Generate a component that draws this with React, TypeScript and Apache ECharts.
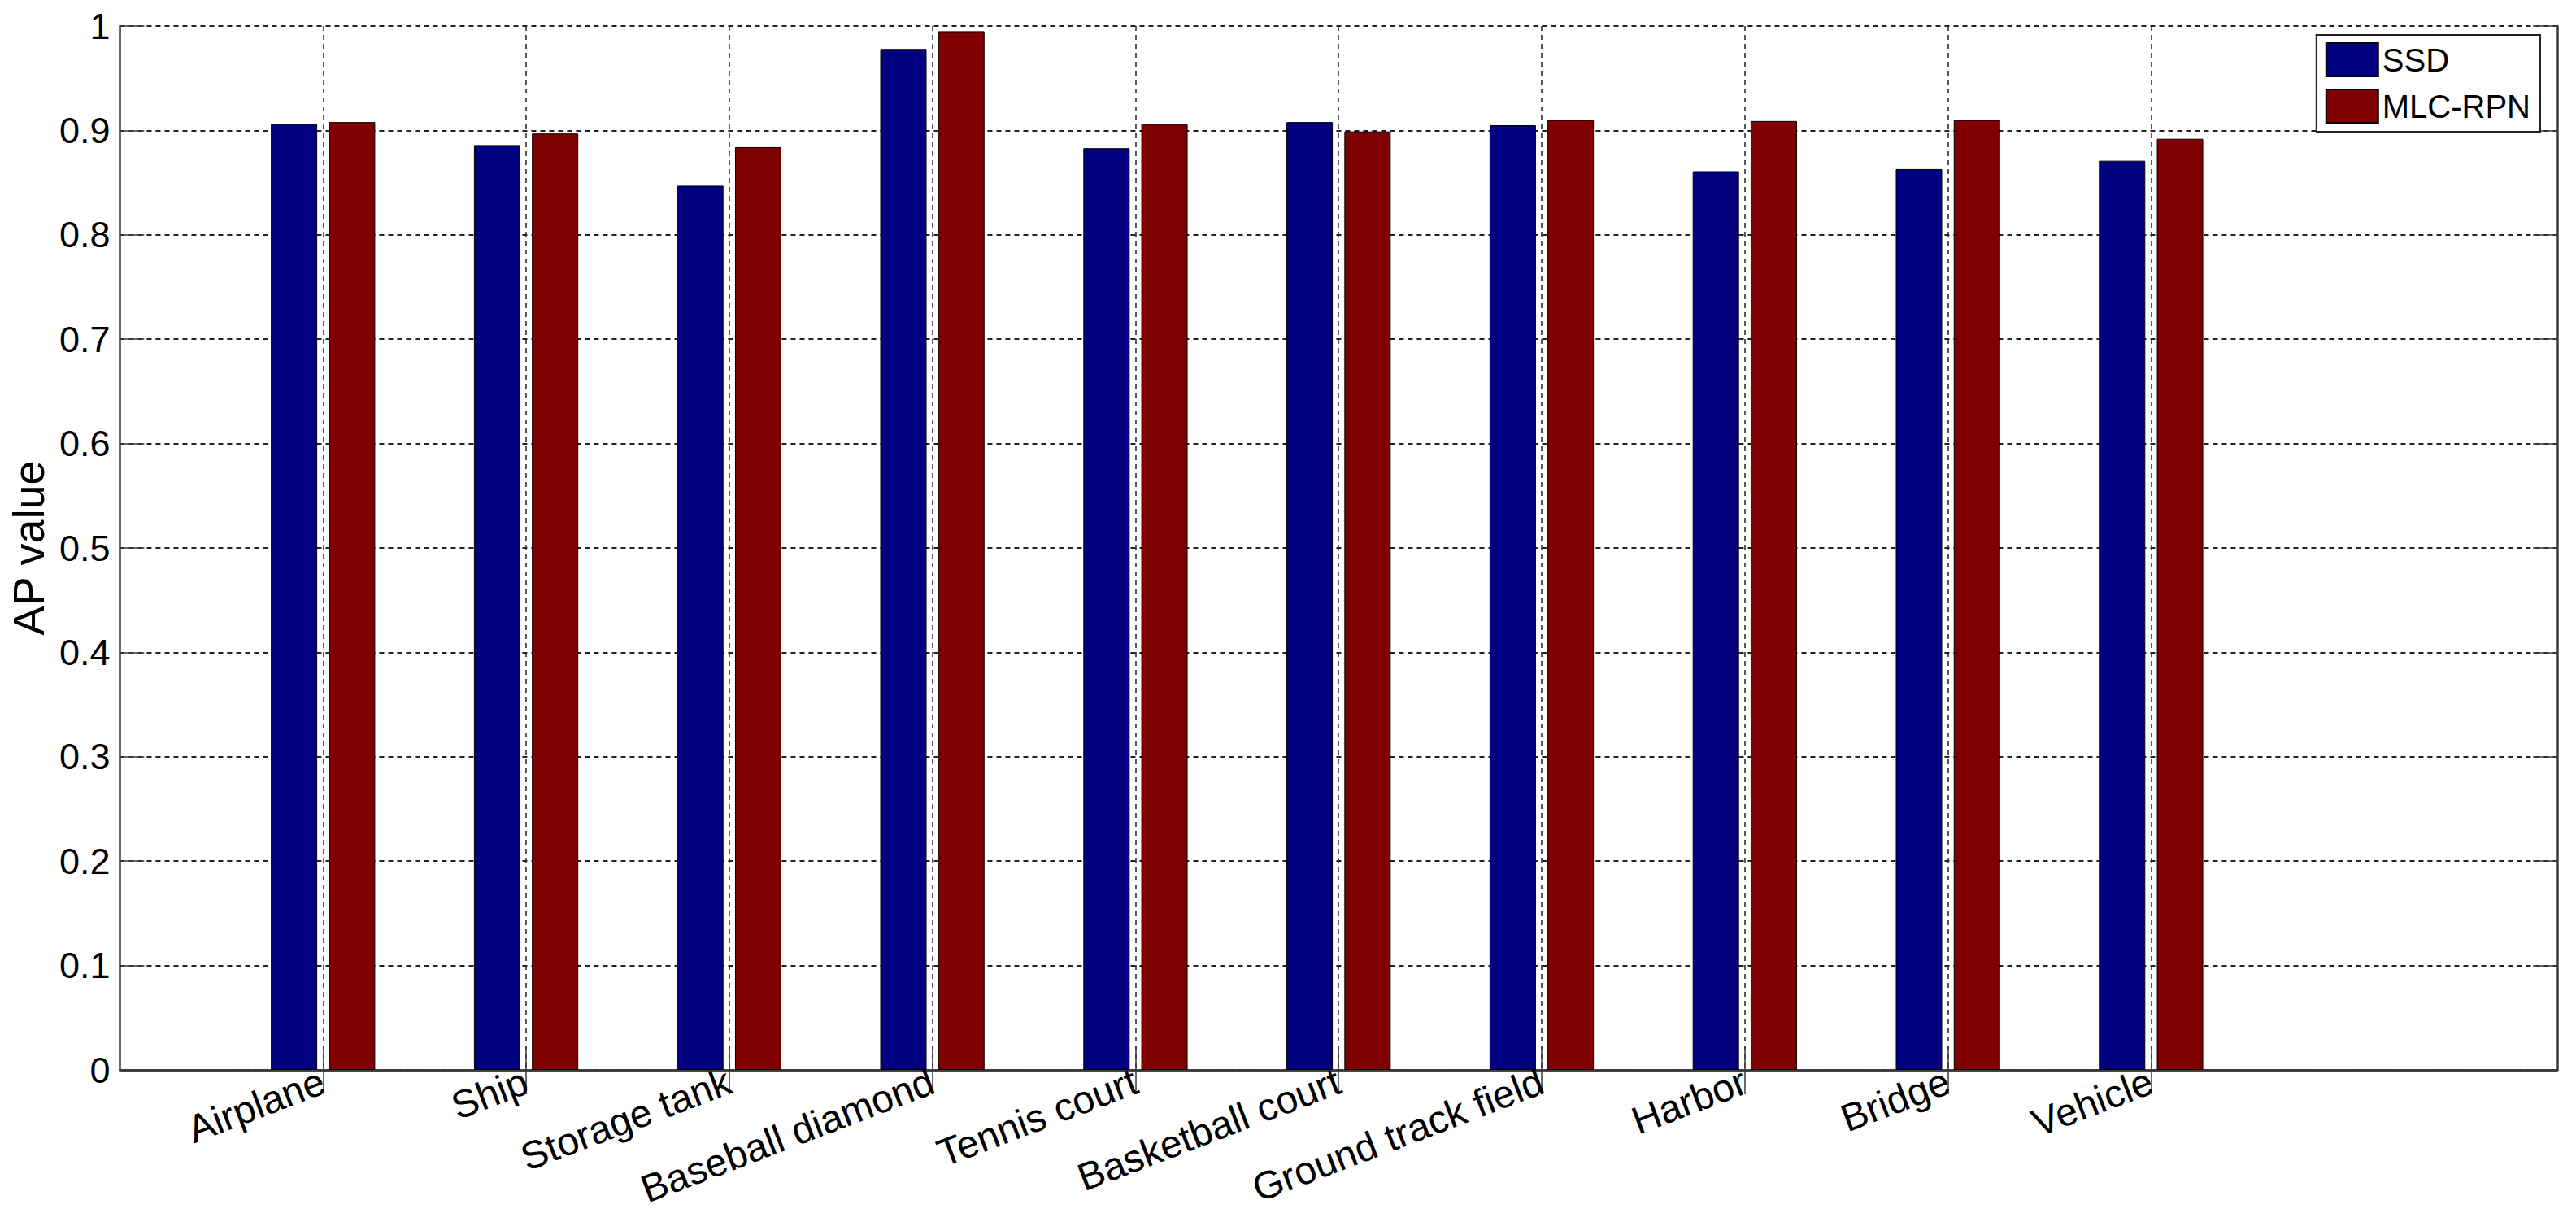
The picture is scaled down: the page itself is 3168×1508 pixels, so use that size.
import React, { useEffect, useRef } from 'react';
import * as echarts from 'echarts';

const categories = [
  'Airplane',
  'Ship',
  'Storage tank',
  'Baseball diamond',
  'Tennis court',
  'Basketball court',
  'Ground track field',
  'Harbor',
  'Bridge',
  'Vehicle',
];
const ssdValues = [0.906, 0.886, 0.847, 0.978, 0.883, 0.908, 0.905, 0.861, 0.863, 0.871];
const mlcRpnValues = [0.908, 0.897, 0.884, 0.995, 0.906, 0.899, 0.91, 0.909, 0.91, 0.892];
const seriesNames = ['SSD', 'MLC-RPN'];
const yMin = 0;
const yMax = 1;
const yInterval = 0.1;

const FONT = '"Liberation Sans", Arial, Helvetica, sans-serif';

export default function App() {
  const ref = useRef<HTMLDivElement>(null);

  useEffect(() => {
    document.body.style.margin = '0';
    const chart = echarts.init(ref.current as HTMLDivElement, null, { renderer: 'svg' });
    const axisCats = ['', ...categories, '', ''];
    const pad = (arr: number[]) => [null, ...arr, null, null];
    const inRange = (i: number) => i >= 1 && i <= categories.length;
    const axisLineStyle = { color: '#3a3a3a', width: 2.5 };

    chart.setOption({
      animation: false,
      backgroundColor: '#ffffff',
      textStyle: { fontFamily: FONT },
      grid: { left: 140, right: 23, top: 32, bottom: 192, containLabel: false },
      legend: {
        orient: 'vertical',
        right: 44,
        top: 43,
        itemWidth: 64,
        itemHeight: 41,
        itemGap: 14,
        padding: [9, 12, 10, 11],
        borderColor: '#222',
        borderWidth: 2,
        backgroundColor: '#ffffff',
        icon: 'rect',
        textStyle: { fontSize: 40, color: '#000', fontFamily: FONT, lineHeight: 41 },
        data: seriesNames,
      },
      xAxis: [
        {
          type: 'category',
          data: axisCats,
          boundaryGap: false,
          position: 'bottom',
          axisLine: { show: true, lineStyle: axisLineStyle },
          axisTick: { show: true, inside: true, length: 30, interval: (i: number) => inRange(i), lineStyle: { color: '#3a3a3a', width: 1.5 } },
          axisLabel: {
            interval: 0,
            rotate: 21,
            margin: 12,
            fontSize: 48,
            color: '#000',
            fontFamily: FONT,
          },
          splitLine: {
            show: true,
            interval: (i: number) => inRange(i),
            lineStyle: { color: '#222', width: 1.5, type: [6, 5] },
          },
        },
        {
          type: 'category',
          data: axisCats,
          boundaryGap: false,
          position: 'top',
          axisLine: { show: true, lineStyle: axisLineStyle },
          axisTick: { show: true, inside: true, length: 30, interval: (i: number) => inRange(i), lineStyle: { color: '#3a3a3a', width: 1.5 } },
          axisLabel: { show: false },
          splitLine: { show: false },
        },
      ],
      yAxis: [
        {
          type: 'value',
          min: yMin,
          max: yMax,
          interval: yInterval,
          position: 'left',
          name: 'AP value',
          nameLocation: 'middle',
          nameRotate: 90,
          nameGap: 74,
          nameTextStyle: { fontSize: 54, color: '#000', fontFamily: FONT },
          axisLine: { show: true, lineStyle: axisLineStyle },
          axisTick: { show: true, inside: true, length: 30, lineStyle: { color: '#3a3a3a', width: 1.5 } },
          axisLabel: { fontSize: 45, color: '#000', margin: 12, fontFamily: FONT },
          splitLine: { show: true, lineStyle: { color: '#222', width: 2, type: [6, 5] } },
        },
        {
          type: 'value',
          min: yMin,
          max: yMax,
          interval: yInterval,
          position: 'right',
          axisLine: { show: true, lineStyle: axisLineStyle },
          axisTick: { show: true, inside: true, length: 30, lineStyle: { color: '#3a3a3a', width: 1.5 } },
          axisLabel: { show: false },
          splitLine: { show: false },
        },
      ],
      series: [
        {
          name: seriesNames[0],
          type: 'bar',
          xAxisIndex: 0,
          yAxisIndex: 0,
          data: pad(ssdValues),
          barWidth: 57,
          barGap: '25%',
          itemStyle: { color: '#000080', borderColor: '#000', borderWidth: 1 },
        },
        {
          name: seriesNames[1],
          type: 'bar',
          xAxisIndex: 0,
          yAxisIndex: 0,
          data: pad(mlcRpnValues),
          barWidth: 57,
          barGap: '25%',
          itemStyle: { color: '#800000', borderColor: '#000', borderWidth: 1 },
        },
      ],
    });

    return () => {
      chart.dispose();
    };
  }, []);

  return <div ref={ref} style={{ width: 3168, height: 1508 }} />;
}
